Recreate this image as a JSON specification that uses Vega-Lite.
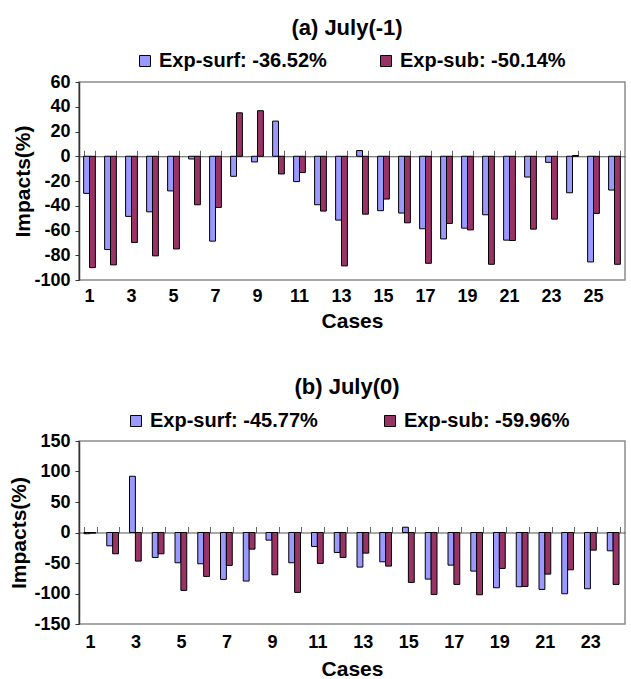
{
  "$schema": "https://vega.github.io/schema/vega-lite/v6.json",
  "background": "white",
  "padding": {"left": 8, "top": 16, "right": 2, "bottom": 0},
  "config": {
    "font": "Liberation Sans",
    "view": {"stroke": "#8c8c8c", "strokeWidth": 1.5},
    "title": {"fontSize": 22, "fontWeight": "bold", "color": "#000", "anchor": "middle", "frame": "group", "dx": -5},
    "axis": {"labelFont": "Liberation Sans", "labelFontWeight": "bold", "labelFontSize": 18, "labelColor": "#000", "titleFont": "Liberation Sans", "titleFontWeight": "bold", "titleFontSize": 21, "titleColor": "#000", "grid": false, "domainColor": "#333", "tickColor": "#333", "labelOverlap": false},
    "legend": {"labelFont": "Liberation Sans", "labelFontWeight": "bold", "labelFontSize": 20, "labelColor": "#000", "labelLimit": 400, "symbolType": "square", "symbolSize": 121, "symbolStrokeColor": "#000", "symbolStrokeWidth": 1, "symbolOpacity": 1, "labelOffset": 4}
  },
  "vconcat": [
    {
      "title": {"text": "(a) July(-1)", "offset": 11},
      "width": 546,
      "height": 198,
      "data": {"values": [
        {"case": 1, "series": "Exp-surf", "value": -30}, {"case": 1, "series": "Exp-sub", "value": -90},
        {"case": 2, "series": "Exp-surf", "value": -75.4}, {"case": 2, "series": "Exp-sub", "value": -87.8},
        {"case": 3, "series": "Exp-surf", "value": -48.6}, {"case": 3, "series": "Exp-sub", "value": -69.7},
        {"case": 4, "series": "Exp-surf", "value": -44.9}, {"case": 4, "series": "Exp-sub", "value": -80.5},
        {"case": 5, "series": "Exp-surf", "value": -28}, {"case": 5, "series": "Exp-sub", "value": -74.9},
        {"case": 6, "series": "Exp-surf", "value": -2.2}, {"case": 6, "series": "Exp-sub", "value": -39.2},
        {"case": 7, "series": "Exp-surf", "value": -68.6}, {"case": 7, "series": "Exp-sub", "value": -41.4},
        {"case": 8, "series": "Exp-surf", "value": -16.2}, {"case": 8, "series": "Exp-sub", "value": 35.1},
        {"case": 9, "series": "Exp-surf", "value": -4.6}, {"case": 9, "series": "Exp-sub", "value": 36.8},
        {"case": 10, "series": "Exp-surf", "value": 28.4}, {"case": 10, "series": "Exp-sub", "value": -14.3},
        {"case": 11, "series": "Exp-surf", "value": -20.5}, {"case": 11, "series": "Exp-sub", "value": -13.2},
        {"case": 12, "series": "Exp-surf", "value": -39.2}, {"case": 12, "series": "Exp-sub", "value": -44.3},
        {"case": 13, "series": "Exp-surf", "value": -51.6}, {"case": 13, "series": "Exp-sub", "value": -88.6},
        {"case": 14, "series": "Exp-surf", "value": 4.6}, {"case": 14, "series": "Exp-sub", "value": -46.8},
        {"case": 15, "series": "Exp-surf", "value": -44}, {"case": 15, "series": "Exp-sub", "value": -34.6},
        {"case": 16, "series": "Exp-surf", "value": -45.9}, {"case": 16, "series": "Exp-sub", "value": -53.8},
        {"case": 17, "series": "Exp-surf", "value": -58.6}, {"case": 17, "series": "Exp-sub", "value": -86.5},
        {"case": 18, "series": "Exp-surf", "value": -66.8}, {"case": 18, "series": "Exp-sub", "value": -54.3},
        {"case": 19, "series": "Exp-surf", "value": -58.1}, {"case": 19, "series": "Exp-sub", "value": -59.5},
        {"case": 20, "series": "Exp-surf", "value": -47.3}, {"case": 20, "series": "Exp-sub", "value": -87.3},
        {"case": 21, "series": "Exp-surf", "value": -67.8}, {"case": 21, "series": "Exp-sub", "value": -68.1},
        {"case": 22, "series": "Exp-surf", "value": -16.8}, {"case": 22, "series": "Exp-sub", "value": -58.9},
        {"case": 23, "series": "Exp-surf", "value": -4.9}, {"case": 23, "series": "Exp-sub", "value": -50.8},
        {"case": 24, "series": "Exp-surf", "value": -29.5}, {"case": 24, "series": "Exp-sub", "value": 0.6},
        {"case": 25, "series": "Exp-surf", "value": -85.4}, {"case": 25, "series": "Exp-sub", "value": -46.2},
        {"case": 26, "series": "Exp-surf", "value": -27.3}, {"case": 26, "series": "Exp-sub", "value": -87.3}
      ]},
      "resolve": {"axis": {"x": "independent"}},
      "layer": [
        {
          "mark": {"type": "bar", "stroke": "#000", "strokeWidth": 1},
          "encoding": {
            "x": {"field": "case", "type": "ordinal", "sort": null, "scale": {"paddingInner": 0.44, "paddingOuter": 0.22},
              "axis": {"title": "Cases", "labelAngle": 0, "values": [1,3,5,7,9,11,13,15,17,19,21,23,25], "ticks": false, "domain": false, "labelPadding": 7, "titlePadding": 5}},
            "xOffset": {"field": "series", "type": "nominal", "sort": ["Exp-surf", "Exp-sub"]},
            "y": {"field": "value", "type": "quantitative", "scale": {"domain": [-100, 60], "nice": false},
              "axis": {"title": "Impacts(%)", "values": [-100,-80,-60,-40,-20,0,20,40,60], "labelExpr": "'' + datum.value", "labelOverlap": false, "tickSize": 4, "labelPadding": 5, "domainWidth": 1.5, "titlePadding": 0}},
            "color": {"field": "series", "type": "nominal", "sort": ["Exp-surf", "Exp-sub"],
              "scale": {"domain": ["Exp-surf", "Exp-sub"], "range": ["#9999ff", "#993366"]},
              "legend": {"title": null, "orient": "none", "direction": "horizontal", "legendX": 56, "legendY": -31, "columnPadding": 49,
                "labelExpr": "datum.label == 'Exp-surf' ? 'Exp-surf: -36.52%' : 'Exp-sub: -50.14%'"}}
          }
        },
        {
          "mark": {"type": "rule", "opacity": 0},
          "encoding": {
            "x": {"field": "case", "type": "ordinal", "sort": null,
              "axis": {"orient": "top", "offset": -74.25, "labels": false, "title": null, "tickBand": "extent", "tickSize": 6, "tickColor": "#666", "domainColor": "#555", "domainWidth": 1.2}},
            "y": {"datum": 0, "type": "quantitative",
              "axis": {"title": "Impacts(%)", "values": [-100,-80,-60,-40,-20,0,20,40,60], "labelExpr": "'' + datum.value", "labelOverlap": false, "tickSize": 4, "labelPadding": 5, "domainWidth": 1.5, "titlePadding": 0}}
          }
        }
      ]
    },
    {
      "title": {"text": "(b) July(0)", "offset": 12},
      "width": 546,
      "height": 183,
      "data": {"values": [
        {"case": 1, "series": "Exp-surf", "value": -2}, {"case": 1, "series": "Exp-sub", "value": -1},
        {"case": 2, "series": "Exp-surf", "value": -21.8}, {"case": 2, "series": "Exp-sub", "value": -34.9},
        {"case": 3, "series": "Exp-surf", "value": 92.2}, {"case": 3, "series": "Exp-sub", "value": -46.9},
        {"case": 4, "series": "Exp-surf", "value": -40.9}, {"case": 4, "series": "Exp-sub", "value": -34.9},
        {"case": 5, "series": "Exp-surf", "value": -49.6}, {"case": 5, "series": "Exp-sub", "value": -94.9},
        {"case": 6, "series": "Exp-surf", "value": -51.3}, {"case": 6, "series": "Exp-sub", "value": -72},
        {"case": 7, "series": "Exp-surf", "value": -76.9}, {"case": 7, "series": "Exp-sub", "value": -54},
        {"case": 8, "series": "Exp-surf", "value": -79.6}, {"case": 8, "series": "Exp-sub", "value": -27.3},
        {"case": 9, "series": "Exp-surf", "value": -12.5}, {"case": 9, "series": "Exp-sub", "value": -69.3},
        {"case": 10, "series": "Exp-surf", "value": -49.6}, {"case": 10, "series": "Exp-sub", "value": -98.2},
        {"case": 11, "series": "Exp-surf", "value": -22.9}, {"case": 11, "series": "Exp-sub", "value": -50.7},
        {"case": 12, "series": "Exp-surf", "value": -32.7}, {"case": 12, "series": "Exp-sub", "value": -40.9},
        {"case": 13, "series": "Exp-surf", "value": -56.7}, {"case": 13, "series": "Exp-sub", "value": -33.8},
        {"case": 14, "series": "Exp-surf", "value": -48}, {"case": 14, "series": "Exp-sub", "value": -55.1},
        {"case": 15, "series": "Exp-surf", "value": 8.7}, {"case": 15, "series": "Exp-sub", "value": -81.8},
        {"case": 16, "series": "Exp-surf", "value": -76.4}, {"case": 16, "series": "Exp-sub", "value": -101.5},
        {"case": 17, "series": "Exp-surf", "value": -53.5}, {"case": 17, "series": "Exp-sub", "value": -85.1},
        {"case": 18, "series": "Exp-surf", "value": -63.3}, {"case": 18, "series": "Exp-sub", "value": -102},
        {"case": 19, "series": "Exp-surf", "value": -90.6}, {"case": 19, "series": "Exp-sub", "value": -58.9},
        {"case": 20, "series": "Exp-surf", "value": -88.9}, {"case": 20, "series": "Exp-sub", "value": -88.4},
        {"case": 21, "series": "Exp-surf", "value": -93.3}, {"case": 21, "series": "Exp-sub", "value": -68.2},
        {"case": 22, "series": "Exp-surf", "value": -100.4}, {"case": 22, "series": "Exp-sub", "value": -61.1},
        {"case": 23, "series": "Exp-surf", "value": -92.2}, {"case": 23, "series": "Exp-sub", "value": -28.9},
        {"case": 24, "series": "Exp-surf", "value": -30}, {"case": 24, "series": "Exp-sub", "value": -85.1}
      ]},
      "resolve": {"axis": {"x": "independent"}},
      "layer": [
        {
          "mark": {"type": "bar", "stroke": "#000", "strokeWidth": 1},
          "encoding": {
            "x": {"field": "case", "type": "ordinal", "sort": null, "scale": {"paddingInner": 0.44, "paddingOuter": 0.22},
              "axis": {"title": "Cases", "labelAngle": 0, "values": [1,3,5,7,9,11,13,15,17,19,21,23], "ticks": false, "domain": false, "labelPadding": 9, "titlePadding": 7}},
            "xOffset": {"field": "series", "type": "nominal", "sort": ["Exp-surf", "Exp-sub"]},
            "y": {"field": "value", "type": "quantitative", "scale": {"domain": [-150, 150], "nice": false},
              "axis": {"title": "Impacts(%)", "values": [-150,-100,-50,0,50,100,150], "labelExpr": "'' + datum.value", "labelOverlap": false, "tickSize": 4, "labelPadding": 5, "domainWidth": 1.5, "titlePadding": 4}},
            "color": {"field": "series", "type": "nominal", "sort": ["Exp-surf", "Exp-sub"],
              "scale": {"domain": ["Exp-surf", "Exp-sub"], "range": ["#9999ff", "#993366"]},
              "legend": {"title": null, "orient": "none", "direction": "horizontal", "legendX": 47, "legendY": -30, "columnPadding": 62,
                "labelExpr": "datum.label == 'Exp-surf' ? 'Exp-surf: -45.77%' : 'Exp-sub: -59.96%'"}}
          }
        },
        {
          "mark": {"type": "rule", "opacity": 0},
          "encoding": {
            "x": {"field": "case", "type": "ordinal", "sort": null,
              "axis": {"orient": "top", "offset": -91.5, "labels": false, "title": null, "tickBand": "extent", "tickSize": 6, "tickColor": "#666", "domainColor": "#555", "domainWidth": 1.2}},
            "y": {"datum": 0, "type": "quantitative",
              "axis": {"title": "Impacts(%)", "values": [-150,-100,-50,0,50,100,150], "labelExpr": "'' + datum.value", "labelOverlap": false, "tickSize": 4, "labelPadding": 5, "domainWidth": 1.5, "titlePadding": 4}}
          }
        }
      ]
    }
  ],
  "spacing": 43,
  "resolve": {"legend": {"color": "independent"}, "scale": {"color": "independent"}}
}
